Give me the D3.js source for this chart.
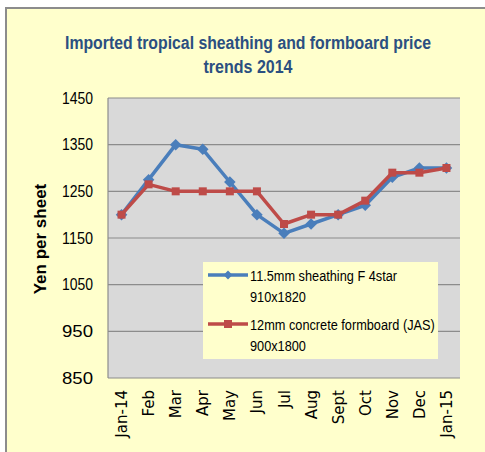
<!DOCTYPE html>
<html><head><meta charset="utf-8">
<script src="https://cdn.jsdelivr.net/npm/d3@7"></script>
<style>body{margin:0;background:#fff}svg{display:block}</style>
</head><body>
<script>
const months = ["Jan-14","Feb","Mar","Apr","May","Jun","Jul","Aug","Sept","Oct","Nov","Dec","Jan-15"];
const sheathing = [1200,1275,1350,1340,1270,1200,1160,1180,1200,1220,1280,1300,1300];
const formboard = [1200,1265,1250,1250,1250,1250,1180,1200,1200,1230,1290,1290,1300];
const yTicks = [850,950,1050,1150,1250,1350,1450];
const seriesNames = [["11.5mm sheathing F 4star","910x1820"],["12mm concrete formboard (JAS)","900x1800"]];
const titleLines = ["Imported tropical sheathing and formboard price","trends 2014"];

const W=485,H=452;
const svg=d3.select("body").append("svg").attr("width",W).attr("height",H);
svg.append("rect").attr("x",6).attr("y",8).attr("width",600).attr("height",600)
  .attr("fill","#FFFFCC").attr("stroke","#8c8c8c").attr("stroke-width",2);

const L=108,R=460,T=98,B=378;
const x=d3.scalePoint().domain(months).range([L,R]).padding(0.5);
const y=d3.scaleLinear().domain([850,1450]).range([B,T]);

svg.append("rect").attr("x",L).attr("y",T).attr("width",R-L).attr("height",B-T).attr("fill","#D9D9D9");
svg.append("g").selectAll("line").data(yTicks).join("line")
  .attr("x1",L).attr("x2",R).attr("y1",d=>y(d)).attr("y2",d=>y(d))
  .attr("stroke","#8c8c8c").attr("stroke-width",1.2);
svg.append("line").attr("x1",L).attr("x2",L).attr("y1",T).attr("y2",B).attr("stroke","#8c8c8c").attr("stroke-width",1.2);

const ya=svg.append("g").attr("transform",`translate(${L},0)`)
  .call(d3.axisLeft(y).tickValues(yTicks).tickSize(0).tickPadding(15).tickFormat(d3.format("d")));
ya.select(".domain").remove();
ya.selectAll("text").attr("font-family","'Liberation Sans',Arial").attr("font-size",16).attr("fill","#000")
  .attr("textLength",31).attr("lengthAdjust","spacingAndGlyphs");

const xa=svg.append("g").attr("transform",`translate(0,${B})`)
  .call(d3.axisBottom(x).tickSize(0).tickPadding(0));
xa.select(".domain").remove();
xa.selectAll("text").attr("font-family","'DejaVu Sans'").attr("font-size",15).attr("fill","#000")
  .attr("text-anchor","end").attr("transform","translate(5,12) rotate(-90)").attr("dy",0).attr("y",0).attr("x",0);

svg.append("text").attr("transform","translate(46,239) rotate(-90)").attr("text-anchor","middle")
  .attr("font-family","'Liberation Sans',Arial").attr("font-weight","bold").attr("font-size",17).text("Yen per sheet");

const titleW=[366,89];
svg.selectAll("text.title").data(titleLines).join("text").attr("class","title")
  .attr("x",248).attr("y",(d,i)=>49+i*24).attr("text-anchor","middle")
  .attr("font-family","'Liberation Sans',Arial").attr("font-weight","bold").attr("font-size",18)
  .attr("textLength",(d,i)=>titleW[i]).attr("lengthAdjust","spacingAndGlyphs")
  .attr("fill","#2B4F81").text(d=>d);

const line=d3.line().x((d,i)=>x(months[i])).y(d=>y(d));
const colors=["#4A7EBB","#BE4B48"];
[sheathing,formboard].forEach((s,k)=>{
  svg.append("path").datum(s).attr("d",line).attr("fill","none").attr("stroke",colors[k]).attr("stroke-width",3.5).attr("stroke-linejoin","round");
  const g=svg.append("g");
  if(k===0){
    g.selectAll("path").data(s).join("path").attr("d",d3.symbol(d3.symbolDiamond2,85)())
      .attr("transform",(d,i)=>`translate(${x(months[i])},${y(d)})`).attr("fill",colors[k]);
  } else {
    g.selectAll("rect").data(s).join("rect").attr("x",(d,i)=>x(months[i])-4).attr("y",d=>y(d)-4)
      .attr("width",8).attr("height",8).attr("fill",colors[k]);
  }
});

// legend
const lg=svg.append("g");
lg.append("rect").attr("x",203).attr("y",262).attr("width",235).attr("height",97).attr("fill","#FFFFCC");
seriesNames.forEach((nm,k)=>{
  const yy=275+k*49;
  lg.append("line").attr("x1",208).attr("x2",248).attr("y1",yy).attr("y2",yy).attr("stroke",colors[k]).attr("stroke-width",3.5);
  if(k===0) lg.append("path").attr("d",d3.symbol(d3.symbolDiamond2,50)()).attr("transform",`translate(228,${yy})`).attr("fill",colors[k]);
  else lg.append("rect").attr("x",224).attr("y",yy-4).attr("width",8).attr("height",8).attr("fill",colors[k]);
  nm.forEach((t,j)=>lg.append("text").attr("transform",`translate(250,${yy+6+j*21}) scale(0.85,1)`)
    .attr("font-family","'Liberation Sans',Arial").attr("font-size",15).text(t));
});
</script>
</body></html>
